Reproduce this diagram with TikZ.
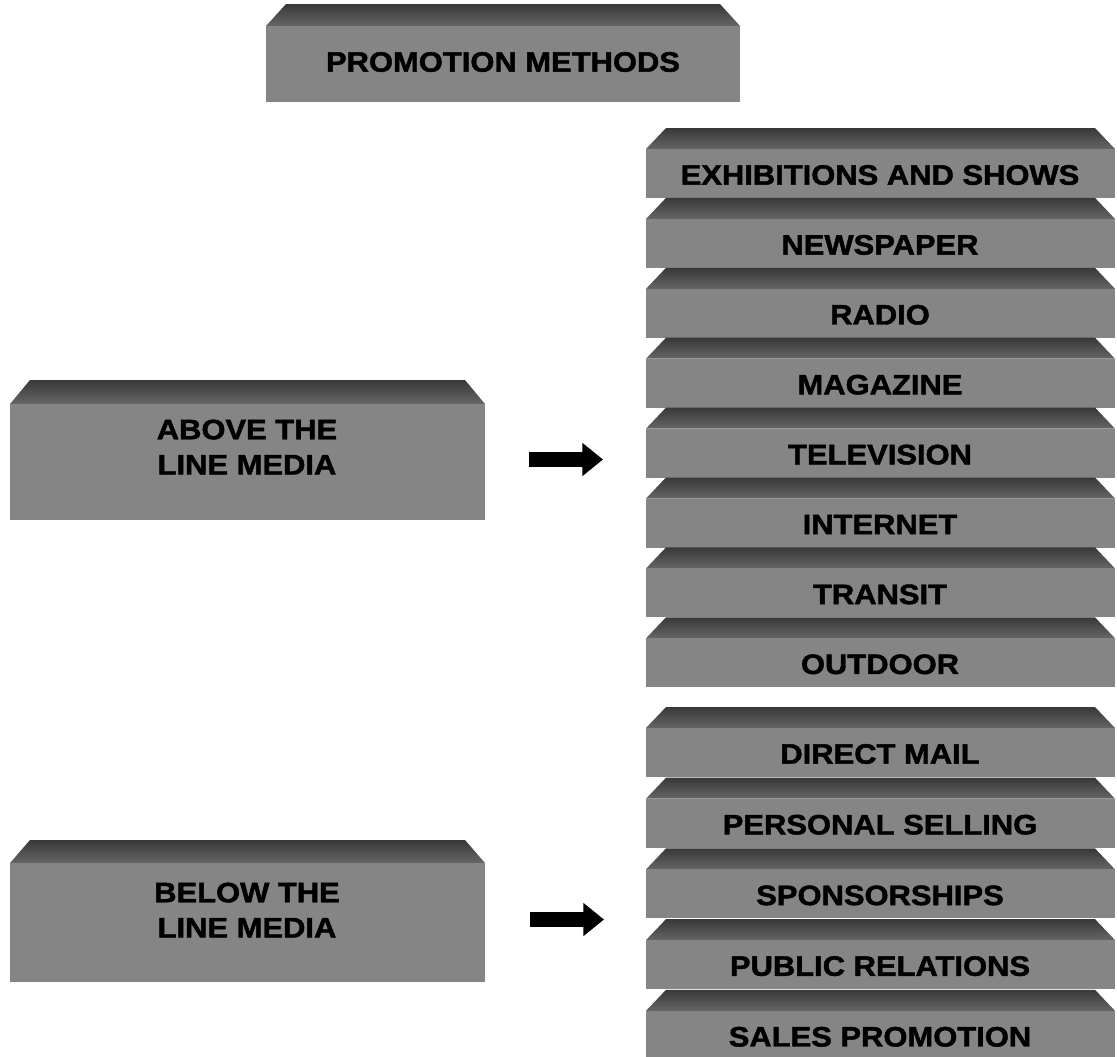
\documentclass[tikz,border=0pt]{standalone}
\usepackage{fontspec}
\setmainfont{Liberation Sans}[FakeStretch=1.1, BoldFeatures={FakeBold=1.6}]
\usetikzlibrary{arrows.meta}

\definecolor{bevtop}{gray}{0.22}
\definecolor{bevbot}{gray}{0.40}
\definecolor{slabface}{gray}{0.52}

% slab: left x, right x, top, front top, bottom
\newcommand{\slab}[5]{%
  \shade[top color=bevtop, bottom color=bevbot] (#1+20,#3) -- (#2-20,#3) -- (#2,#4) -- (#1,#4) -- cycle;
  \fill[slabface] (#1,#4) rectangle (#2,#5);
}

\tikzset{
  slabtext/.style={font=\bfseries\fontsize{24}{30}\selectfont, align=center, inner sep=0pt},
  blockarrow/.style={line width=0.45cm, -{Triangle[length=0.62cm, width=0.96cm]}}
}

\begin{document}
\begin{tikzpicture}[x=0.03cm, y=-0.03cm]
        \useasboundingbox (0,0) rectangle (1117,1056);

        % title
        \slab{266}{740}{4}{26}{102}
        \node[slabtext] (title) at (503,62) {PROMOTION METHODS};

        % left column
        \slab{10}{485}{380}{404}{520}
        \node[slabtext] (atl) at (247,447) {ABOVE THE\\LINE MEDIA};
        \slab{10}{485}{840}{863}{982}
        \node[slabtext] (btl) at (247,910) {BELOW THE\\LINE MEDIA};

        % right column, above the line
        \foreach \lbl [count=\i from 0] in {EXHIBITIONS AND SHOWS, NEWSPAPER, RADIO, MAGAZINE, TELEVISION, INTERNET, TRANSIT, OUTDOOR} {
                \pgfmathsetmacro\yt{128+69.9*\i}
                \slab{646}{1115}{\yt}{\yt+21}{\yt+70}
                \node[slabtext] (atl\i) at (880,\yt+47) {\lbl};
        }

        % right column, below the line
        \foreach \lbl [count=\i from 0] in {DIRECT MAIL, PERSONAL SELLING, SPONSORSHIPS, PUBLIC RELATIONS, SALES PROMOTION} {
                \pgfmathsetmacro\yt{707+70.7*\i}
                \slab{646}{1115}{\yt}{\yt+21}{\yt+70}
                \node[slabtext] (btl\i) at (880,\yt+47) {\lbl};
        }

        % arrows
        \coordinate (atlS) at (529,459.5);
        \coordinate (atlE) at (603,459.5);
        \coordinate (btlS) at (530,919.5);
        \coordinate (btlE) at (604,919.5);
        \draw[blockarrow] (atlS) -- (atlE);
        \draw[blockarrow] (btlS) -- (btlE);
\end{tikzpicture}
\end{document}
